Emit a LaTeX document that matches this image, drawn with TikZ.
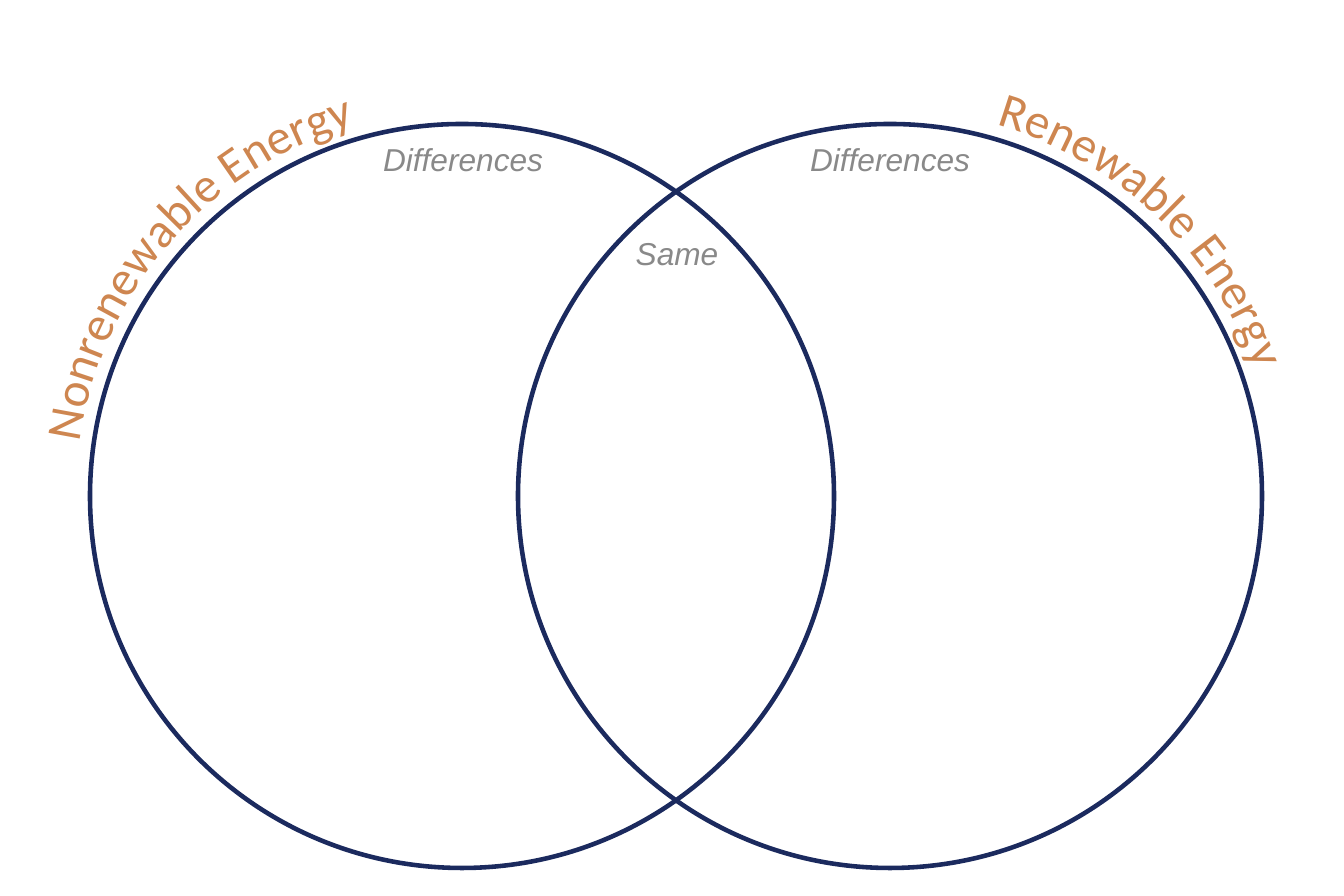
\documentclass[tikz,border=0pt]{standalone}
\usepackage{fontspec}
\usetikzlibrary{decorations.text}
\newfontfamily\labelfont{Carlito}
\newfontfamily\notefont{Liberation Sans}
\definecolor{vennblue}{RGB}{27,42,94}
\definecolor{titleorange}{RGB}{206,134,80}
\definecolor{notegray}{RGB}{137,137,137}

\begin{document}
\begin{tikzpicture}[
    venn/.style={draw=vennblue, line width=1.3pt, circle, minimum size=7.44cm, inner sep=0pt},
    note/.style={text=notegray, font=\notefont\itshape\fontsize{9}{11}\selectfont},
    arctitle/.style={decorate, decoration={text along path, text color=titleorange,
        text format delimiters={|}{|}, text={|\labelfont\fontsize{14}{17}\selectfont|#1}}}
]
				\useasboundingbox (0,0) rectangle (13.44,8.96);
				\node[venn] (NR)at(4.62, 4.00) {};
				\node[venn] (RE)at(8.90, 4.00) {};
				\node[note] (DNR)at(4.63, 7.36) {Differences};
				\node[note] (DRE)at(8.90, 7.36) {Differences};
				\node[note] (S)at(6.77, 6.41) {Same};
				\path[arctitle={Nonrenewable Energy}] ([shift={(172:3.86)}]NR.center) arc[start angle=172, end angle=95, radius=3.86];
				\path[arctitle={Renewable Energy}] ([shift={(74:3.86)}]RE.center) arc[start angle=74, end angle=5, radius=3.86];
			\end{tikzpicture}
\end{document}
